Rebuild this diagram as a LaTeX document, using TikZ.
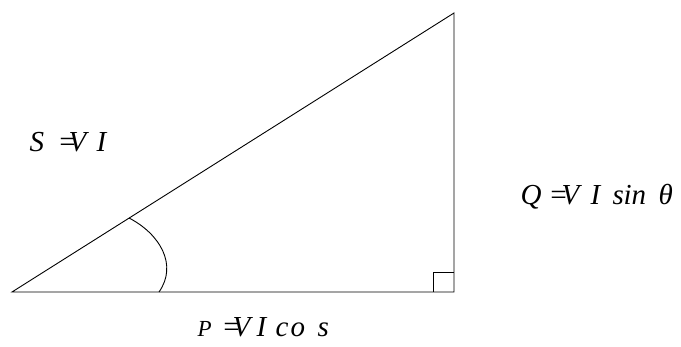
\documentclass[tikz,border=0pt]{standalone}
\usepackage{fontspec}
\setmainfont{Liberation Serif}
\newcommand\gl[2]{\rlap{\kern#1pt #2}}
\begin{document}
\begin{tikzpicture}[x=1pt,y=1pt,
  edge/.style={line width=0.9pt,black},
  lbl/.style={anchor=base west,inner sep=0pt,font=\fontsize{29}{29}\selectfont\itshape}]
\useasboundingbox (0,0) rectangle (681,347);
\coordinate (A) at (12,55);
\coordinate (B) at (454,55);
\coordinate (C) at (454,334);
\draw[edge] (A) -- (B) -- (C) -- cycle;
\draw[edge] (433,55) |- (454,75);
\draw[edge] (129,129) .. controls (160,113) and (178,82) .. (159,55);
\node[lbl] (S) at (29,195) {\gl{0}{S}\gl{28}{=}\gl{39}{V}\gl{67}{I}};
\node[lbl] (Q) at (520,142) {\gl{0}{Q}\gl{28}{=}\gl{41}{V}\gl{70}{I}\gl{92}{s}\gl{103}{i}\gl{111}{n}\gl{138}{θ}};
\node[lbl] (P) at (197,10) {\gl{0}{\fontsize{23}{23}\selectfont P}\gl{24}{=}\gl{35}{V}\gl{59}{I}\gl{78}{c}\gl{93}{o}\gl{120}{s}};
\end{tikzpicture}
\end{document}
